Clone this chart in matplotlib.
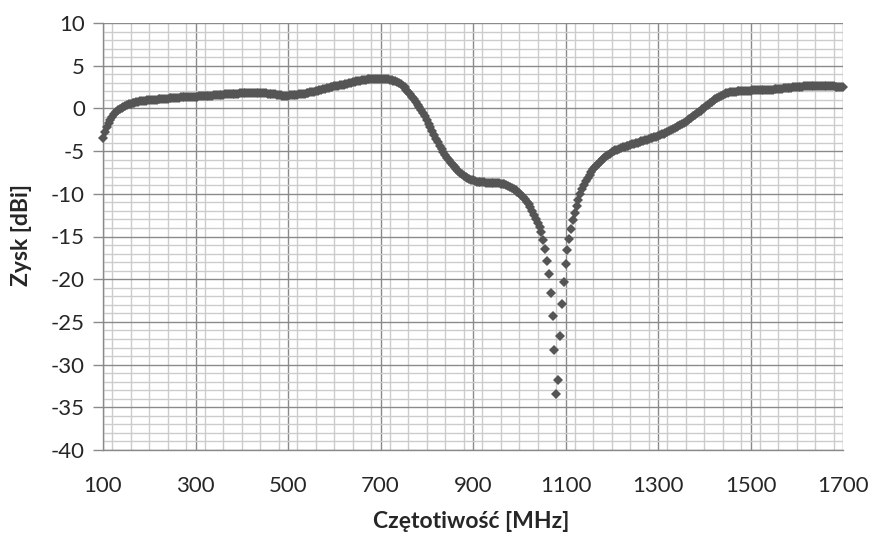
import numpy as np
import matplotlib
matplotlib.use("Agg")
import matplotlib.pyplot as plt
from matplotlib.ticker import MultipleLocator, FixedLocator

# Frequency sweep (MHz), 4 MHz step as in the measurement
freq_mhz = np.arange(100, 1701, 4)

# Gain values (dBi), one per sweep point
gain_dbi = [
    # 100-200
    -3.50, -2.75, -2.15, -1.70, -1.30, -0.95, -0.65, -0.42, -0.22, -0.05,
    0.10, 0.22, 0.33, 0.42, 0.50, 0.57, 0.63, 0.68, 0.73, 0.77,
    0.81, 0.84, 0.87, 0.90, 0.93, 0.95,
    # 204-300
    0.97, 0.99, 1.01, 1.03, 1.05, 1.07, 1.09, 1.11, 1.13, 1.15,
    1.17, 1.19, 1.21, 1.23, 1.25, 1.27, 1.29, 1.30, 1.31, 1.32,
    1.33, 1.34, 1.35, 1.36, 1.37,
    # 304-400
    1.38, 1.40, 1.42, 1.43, 1.45, 1.46, 1.47, 1.49, 1.50, 1.52,
    1.54, 1.56, 1.58, 1.60, 1.62, 1.64, 1.66, 1.68, 1.70, 1.71,
    1.72, 1.73, 1.74, 1.75, 1.76,
    # 404-500
    1.76, 1.77, 1.77, 1.78, 1.78, 1.78, 1.78, 1.78, 1.78, 1.77,
    1.77, 1.76, 1.75, 1.74, 1.73, 1.71, 1.69, 1.66, 1.62, 1.58,
    1.54, 1.51, 1.49, 1.49, 1.50,
    # 504-600
    1.52, 1.55, 1.58, 1.60, 1.62, 1.64, 1.67, 1.70, 1.74, 1.78,
    1.82, 1.87, 1.92, 1.97, 2.03, 2.09, 2.15, 2.21, 2.27, 2.33,
    2.38, 2.43, 2.48, 2.53, 2.57,
    # 604-700
    2.61, 2.65, 2.69, 2.73, 2.78, 2.83, 2.88, 2.93, 2.99, 3.04,
    3.10, 3.15, 3.20, 3.25, 3.30, 3.34, 3.37, 3.40, 3.42, 3.44,
    3.45, 3.46, 3.47, 3.47, 3.47,
    # 704-800
    3.46, 3.44, 3.42, 3.39, 3.35, 3.31, 3.25, 3.18, 3.10, 3.00,
    2.86, 2.68, 2.46, 2.20, 1.93, 1.65, 1.36, 1.06, 0.76, 0.45,
    0.12, -0.22, -0.57, -0.93, -1.30,
    # 804-900
    -1.78, -2.22, -2.66, -3.10, -3.54, -3.96, -4.36, -4.74, -5.10, -5.44,
    -5.76, -6.06, -6.35, -6.62, -6.88, -7.12, -7.34, -7.55, -7.73, -7.89,
    -8.02, -8.14, -8.25, -8.35, -8.43,
    # 904-1000
    -8.50, -8.56, -8.60, -8.63, -8.65, -8.67, -8.68, -8.69, -8.70, -8.71,
    -8.72, -8.73, -8.75, -8.78, -8.81, -8.85, -8.90, -8.97, -9.05, -9.15,
    -9.27, -9.41, -9.57, -9.75, -9.94,
    # 1004-1100
    -10.14, -10.36, -10.62, -10.92, -11.24, -11.60, -12.00, -12.44, -12.90, -13.40,
    -13.93, -14.50, -15.40, -16.50, -17.90, -19.40, -21.60, -24.30, -28.30, -33.40,
    -31.80, -26.60, -22.90, -20.30, -18.20,
    # 1104-1200
    -16.60, -15.30, -14.10, -13.10, -12.20, -11.40, -10.70, -10.05, -9.48, -8.98,
    -8.53, -8.13, -7.77, -7.44, -7.14, -6.87, -6.62, -6.39, -6.17, -5.97,
    -5.78, -5.60, -5.44, -5.29, -5.15,
    # 1204-1300
    -5.03, -4.92, -4.82, -4.73, -4.65, -4.57, -4.50, -4.43, -4.36, -4.29,
    -4.22, -4.15, -4.08, -4.01, -3.94, -3.87, -3.80, -3.73, -3.66, -3.59,
    -3.52, -3.45, -3.38, -3.30, -3.21,
    # 1304-1400
    -3.12, -3.03, -2.94, -2.85, -2.76, -2.66, -2.56, -2.45, -2.33, -2.21,
    -2.08, -1.95, -1.82, -1.68, -1.54, -1.39, -1.23, -1.07, -0.91, -0.75,
    -0.59, -0.43, -0.26, -0.09, 0.08,
    # 1404-1500
    0.26, 0.44, 0.62, 0.80, 0.97, 1.12, 1.26, 1.39, 1.50, 1.60,
    1.69, 1.76, 1.82, 1.87, 1.91, 1.94, 1.97, 1.99, 2.01, 2.03,
    2.05, 2.06, 2.07, 2.08, 2.09,
    # 1504-1600
    2.10, 2.11, 2.12, 2.13, 2.14, 2.15, 2.16, 2.17, 2.18, 2.19,
    2.20, 2.21, 2.22, 2.24, 2.26, 2.28, 2.31, 2.34, 2.37, 2.40,
    2.42, 2.44, 2.46, 2.48, 2.50,
    # 1604-1700
    2.52, 2.54, 2.56, 2.58, 2.59, 2.60, 2.61, 2.62, 2.62, 2.63,
    2.63, 2.63, 2.63, 2.63, 2.63, 2.62, 2.61, 2.60, 2.59, 2.58,
    2.56, 2.54, 2.52, 2.49, 2.45,
]

x_ticks = [100, 300, 500, 700, 900, 1100, 1300, 1500, 1700]
y_ticks = [10, 5, 0, -5, -10, -15, -20, -25, -30, -35, -40]
x_label = "Czętotiwość [MHz]"
y_label = "Zysk [dBi]"

n = min(len(freq_mhz), len(gain_dbi))
freq_mhz = freq_mhz[:n]
gain_dbi = np.array(gain_dbi[:n])

plt.rcParams['font.family'] = ['Lato', 'DejaVu Sans']
plt.rcParams['axes.unicode_minus'] = False

fig = plt.figure(figsize=(8.75, 5.41), dpi=100)
ax = fig.add_axes([103 / 875, 1 - 450 / 541, (843 - 103) / 875, (450 - 23) / 541])

major_col = "#8a8a8a"
minor_col = "#cccccc"

ax.set_xlim(100, 1700)
ax.set_ylim(-40, 10)
ax.xaxis.set_major_locator(FixedLocator(x_ticks))
ax.xaxis.set_minor_locator(MultipleLocator(40))
ax.yaxis.set_major_locator(FixedLocator(y_ticks))
ax.yaxis.set_minor_locator(MultipleLocator(1))

ax.grid(which="minor", color=minor_col, linewidth=1.0, zorder=0)
ax.grid(which="major", color=major_col, linewidth=1.0, zorder=1)
ax.set_axisbelow(True)

for side in ["top", "right"]:
    ax.spines[side].set_visible(False)
for side in ["left", "bottom"]:
    ax.spines[side].set_color(major_col)
    ax.spines[side].set_linewidth(1.0)

ax.tick_params(axis="x", which="both", length=0, pad=19, labelsize=16, labelcolor="#262626")
ax.tick_params(axis="y", which="major", length=7, width=1.0, color=major_col,
               pad=6, labelsize=16, labelcolor="#262626")
ax.tick_params(axis="y", which="minor", length=0)

ax.plot(freq_mhz, gain_dbi, linestyle="none", marker="D", markersize=4.8,
        color="#555555", markeredgewidth=0, zorder=3, clip_on=False)

ax.set_xlabel(x_label, fontsize=16.5, fontweight="bold", color="#262626")
ax.set_ylabel(y_label, fontsize=16.5, fontweight="bold", color="#262626")
ax.xaxis.set_label_coords((471 - 103) / 740, (450 - 522) / 427)
ax.xaxis.label.set_verticalalignment("center")
ax.yaxis.set_label_coords((22 - 103) / 740, (450 - 235) / 427)
ax.yaxis.label.set_verticalalignment("center")

fig.savefig("out.png", dpi=100)
